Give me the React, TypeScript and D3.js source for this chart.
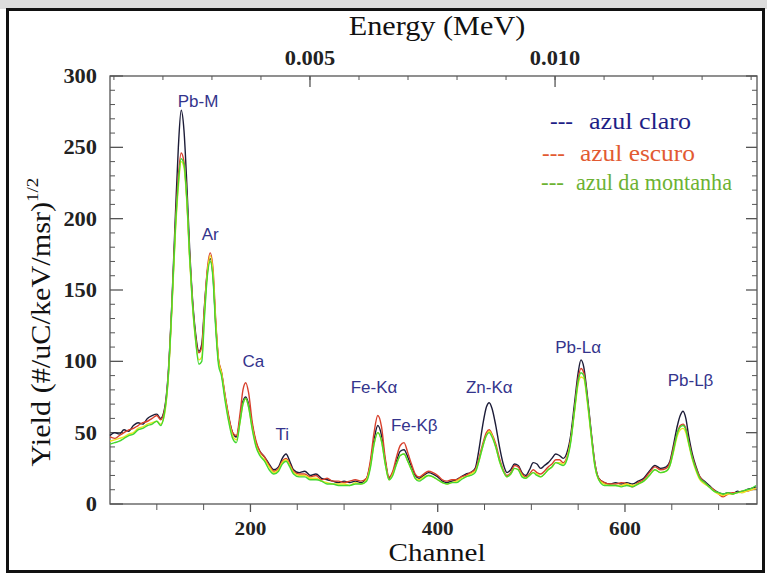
import React from 'react';
import * as d3 from 'd3';

const channels = [50,55,60,65,70,75,80,85,90,95,100,104,108,112,116,120,123,126,129,132,135,138,141,145,148,151,154,157,160,163,166,169,173,177,181,185,189,192,195,198,202,206,210,215,220,225,230,234,238,242,246,252,258,264,270,276,282,288,294,300,306,312,318,324,328,332,336,340,344,348,352,356,360,364,368,372,376,380,385,390,395,400,405,410,415,420,425,430,435,440,444,448,452,455,458,462,466,470,474,478,482,486,490,494,498,502,506,510,514,518,522,526,530,534,538,542,546,550,553,556,560,564,568,572,578,584,590,596,602,608,614,620,626,632,638,644,648,652,656,659,662,665,668,672,676,680,685,690,695,700,705,710,715,720,725,730,735,740];

const yieldAzulClaro = [48,50,49,52,51,55,57,56,60,62,63,60,66,90,140,205,250,276,262,225,180,145,122,107,112,140,163,172,160,125,100,92,75,60,50,47,60,72,75,70,55,43,37,33,28,24,26,32,35,30,24,22,23,20,21,18,17,16,15,16,15,16,15,18,28,45,55,48,30,18,22,30,37,38,33,26,20,18,20,22,21,19,16,15,16,17,19,21,22,25,38,55,68,71,67,55,40,28,22,24,28,27,22,20,24,29,28,25,27,29,32,35,34,32,36,48,70,92,101,96,75,50,28,18,15,14,15,14,15,14,16,18,23,27,25,26,30,42,55,62,65,60,48,35,26,19,16,13,10,8,7,8,7,9,8,10,11,12];
const yieldAzulEscuro = [47,46,48,50,52,53,55,57,58,60,62,59,65,88,138,198,230,246,240,215,175,143,120,106,110,138,165,176,165,128,101,93,76,61,50,48,64,80,85,78,57,44,37,33,27,23,25,30,32,28,23,21,21,19,20,17,18,16,16,15,16,17,16,18,30,50,62,54,32,19,23,33,41,43,36,28,21,19,21,23,22,20,17,16,17,17,19,20,22,24,32,42,50,52,49,42,32,24,20,22,27,26,21,19,21,24,22,21,23,26,28,31,31,29,33,45,66,88,95,92,73,49,28,18,15,14,14,15,14,12,15,17,22,26,24,25,29,40,50,55,56,53,44,33,25,19,15,12,10,7,5,7,8,8,9,9,10,11];
const yieldYellow = [44,45,46,47,49,50,53,54,56,57,58,56,62,86,135,192,222,240,236,212,172,140,117,101,103,135,162,174,162,126,100,92,74,58,48,45,58,70,74,68,53,41,35,31,26,22,24,29,31,27,22,20,20,18,18,16,15,14,14,14,13,15,14,17,26,42,50,44,28,17,21,28,34,35,30,24,18,17,19,20,19,17,15,14,15,16,18,19,21,23,30,40,48,51,48,40,30,23,19,21,25,24,20,18,20,22,21,19,21,24,26,29,29,28,32,44,64,84,89,88,70,47,26,17,14,13,13,13,14,13,14,16,20,24,22,23,27,37,48,52,53,50,42,31,23,17,14,12,9,7,6,7,7,8,8,9,10,11];
const yieldMontanha = [42,43,44,46,48,49,52,53,55,56,58,55,63,87,137,195,225,242,238,214,174,141,118,98,100,132,160,170,158,122,97,90,72,57,46,43,58,70,74,68,52,40,34,30,24,21,23,28,30,26,21,19,19,17,17,16,14,14,13,13,13,14,14,16,25,42,50,44,28,17,20,28,34,35,30,24,18,16,18,20,19,17,15,14,15,15,17,19,20,22,30,40,48,50,47,40,30,23,19,21,25,24,19,18,20,22,20,19,21,24,26,29,28,27,31,43,65,86,92,90,72,48,26,17,13,13,13,12,13,12,14,16,20,24,22,23,27,38,50,54,55,52,43,32,24,18,15,12,9,8,7,8,7,8,9,10,11,13];

const channelMajorTicks = [200, 400, 600];
const channelMinorTicks = [100, 150, 250, 300, 350, 450, 500, 550, 650, 700];
const yieldMajorTicks = [0, 50, 100, 150, 200, 250, 300];
const energyMajorTicks = [0.005, 0.010];

const peakNames = ['Pb-M', 'Ar', 'Ca', 'Ti', 'Fe-Kα', 'Fe-Kβ', 'Zn-Kα', 'Pb-Lα', 'Pb-Lβ'];
const peakLabelChannel = [144, 157, 203, 234, 332, 375, 455, 550, 670];
const peakLabelYield = [278, 185, 96, 45, 78, 51, 78, 106, 83];

const legendNames = ['azul claro', 'azul escuro', 'azul da montanha'];

const W = 767;
const H = 575;
const SX = 1.12;
const plot = { left: 110, right: 757, top: 76, bottom: 504 };

export default function App() {
  const x = d3.scaleLinear().domain([50, 741]).range([plot.left, plot.right]);
  const y = d3.scaleLinear().domain([0, 300]).range([plot.bottom, plot.top]);
  const e = d3.scaleLinear().domain([0.00092, 0.01412]).range([plot.left, plot.right]);

  const series = [
    { vals: yieldAzulClaro, color: '#1c1c38' },
    { vals: yieldAzulEscuro, color: '#d8402c' },
    { vals: yieldYellow, color: '#eee422' },
    { vals: yieldMontanha, color: '#44d830' },
  ];
  const line = d3
    .line<number>()
    .x((_, i) => x(channels[i]))
    .y((v) => y(v))
    .curve(d3.curveMonotoneX);

  const yMinor = d3.range(0, 301, 10).filter((v) => v % 50 !== 0);
  const eMinor = d3.range(1, 15).map((k) => k / 1000).filter((v) => e(v) >= plot.left && e(v) <= plot.right);

  const serif = "'Liberation Serif', 'Times New Roman', serif";
  const sans = "'Liberation Sans', Arial, sans-serif";
  const axisColor = '#555';

  const legendColors = ['#1e1e86', '#e25a32', '#6cb232'];
  const legendDashX = [550, 542, 541];
  const legendTextX = [589, 580, 576];
  const legendTextEnd = [691, 695, 732];
  const legendY = [129, 161, 190];

  const T = (
    px: number,
    py: number,
    txt: React.ReactNode,
    opts: { size: number; anchor?: string; weight?: string; family?: string; fill?: string; rotate?: number }
  ) => (
    <text
      transform={`translate(${px},${py})${opts.rotate ? ` rotate(${opts.rotate})` : ''} scale(${SX},1)`}
      fontSize={opts.size}
      textAnchor={opts.anchor || 'middle'}
      fontWeight={opts.weight || 'normal'}
      fontFamily={opts.family || serif}
      fill={opts.fill || '#111'}
    >
      {txt}
    </text>
  );

  return (
    <svg width={W} height={H} style={{ position: 'absolute', left: 0, top: 0, background: '#fff' }}>
      <rect x={0} y={0} width={W} height={H} fill="#fff" />
      <rect x={0} y={0} width={W} height={9} fill="#dcdcdc" />
      <rect x={7.5} y={9.5} width={756} height={562} fill="none" stroke="#111" strokeWidth={3} />

      {/* plot frame */}
      <rect x={plot.left} y={plot.top} width={plot.right - plot.left} height={plot.bottom - plot.top} fill="none" stroke={axisColor} strokeWidth={1.3} />

      {/* left and right ticks */}
      {yMinor.map((v) => (
        <g key={'ym' + v}>
          <line x1={plot.left} x2={plot.left + 5} y1={y(v)} y2={y(v)} stroke={axisColor} />
          <line x1={plot.right} x2={plot.right - 5} y1={y(v)} y2={y(v)} stroke={axisColor} />
        </g>
      ))}
      {yieldMajorTicks.map((v) => (
        <g key={'yM' + v}>
          <line x1={plot.left} x2={plot.left + 13} y1={y(v)} y2={y(v)} stroke={axisColor} strokeWidth={1.3} />
          <line x1={plot.right} x2={plot.right - 11} y1={y(v)} y2={y(v)} stroke={axisColor} strokeWidth={1.3} />
          {T(97, y(v) + 7, String(v), { size: 20, anchor: 'end', weight: 'bold', fill: '#222' })}
        </g>
      ))}

      {/* bottom ticks */}
      {channelMinorTicks.map((c) => (
        <line key={'cm' + c} x1={x(c)} x2={x(c)} y1={plot.bottom} y2={plot.bottom + 6} stroke={axisColor} />
      ))}
      {channelMajorTicks.map((c) => (
        <g key={'cM' + c}>
          <line x1={x(c)} x2={x(c)} y1={plot.bottom} y2={plot.bottom + 8} stroke={axisColor} strokeWidth={1.3} />
          {T(x(c), 535, String(c), { size: 19, weight: 'bold', fill: '#222' })}
        </g>
      ))}

      {/* top energy ticks */}
      {eMinor.map((v) => (
        <line key={'em' + v} x1={e(v)} x2={e(v)} y1={plot.top} y2={plot.top + 4} stroke={axisColor} />
      ))}
      {energyMajorTicks.map((v) => (
        <g key={'eM' + v}>
          <line x1={e(v)} x2={e(v)} y1={plot.top} y2={plot.top + 11} stroke={axisColor} strokeWidth={1.3} />
          {T(e(v), 65, d3.format('.3f')(v), { size: 20, weight: 'bold', fill: '#222' })}
        </g>
      ))}

      {/* series */}
      {series.map((s, i) => (
        <path key={'s' + i} d={line(s.vals) || ''} fill="none" stroke={s.color} strokeWidth={1.4} strokeLinejoin="round" />
      ))}

      {/* peak labels */}
      {peakNames.map((n, i) => (
        <text
          key={'p' + n}
          x={x(peakLabelChannel[i])}
          y={y(peakLabelYield[i])}
          fontSize={17}
          fontFamily={sans}
          textAnchor="middle"
          fill="#34348c"
        >
          {n}
        </text>
      ))}

      {/* legend */}
      {legendNames.map((n, i) => (
        <g key={'l' + n} fill={legendColors[i]} fontFamily={serif} fontSize={23}>
          <text x={legendDashX[i]} y={legendY[i]}>---</text>
          <text
            x={legendTextX[i]}
            y={legendY[i]}
            textLength={legendTextEnd[i] - legendTextX[i]}
            lengthAdjust="spacingAndGlyphs"
          >
            {n}
          </text>
        </g>
      ))}

      {/* axis titles */}
      {T(437, 35, 'Energy (MeV)', { size: 27 })}
      {T(437, 561, 'Channel', { size: 26 })}
      {T(
        50,
        322,
        <>
          Yield (#/uC/keV/msr)
          <tspan fontSize={17} dy={-12}>1/2</tspan>
        </>,
        { size: 27, rotate: -90 }
      )}
    </svg>
  );
}
